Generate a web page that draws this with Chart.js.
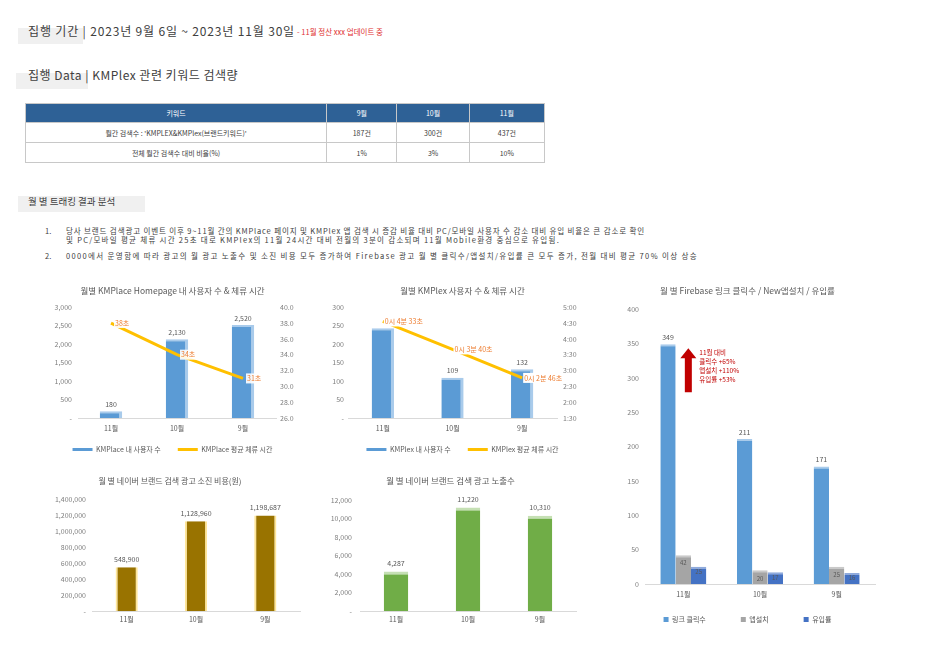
<!DOCTYPE html>
<html><head><meta charset="utf-8">
<script src="https://cdn.jsdelivr.net/npm/chart.js@4.4.1/dist/chart.umd.min.js"></script>
<style>
body{margin:0;width:927px;height:670px;background:#fff;position:relative;overflow:hidden;font-family:"Noto Sans CJK KR","Noto Sans",sans-serif;color:#404040}
.abs{position:absolute;white-space:nowrap}
.hbox{position:absolute;background:#f0f0f0}
.h{font-size:10.5px;line-height:12px;color:#404040}
.red{color:#e03030;font-size:7px;line-height:10px}
table{position:absolute;border-collapse:collapse;font-size:7px;color:#404040}
td,th{border:1px solid #c8c8c8;text-align:center;padding:0}
th{background:#2e6196;color:#fff;font-weight:normal;height:18px}
td{height:19px}
.bl{font-size:7.5px;line-height:9px;color:#404040}
.c{position:absolute}
</style></head><body>

<div class="hbox" style="left:18px;top:28px;width:65px;height:16px"></div>
<div class="abs h" id="h1" style="left:28px;top:25px">집행 기간 | 2023년 9월 6일 ~ 2023년 11월 30일</div>
<div class="abs red" id="h1r" style="left:297px;top:27px">- 11월 정산 xxx 업데이트 중</div>

<div class="hbox" style="left:16px;top:73px;width:72px;height:16px"></div>
<div class="abs h" id="h2" style="left:28px;top:69px">집행 Data | KMPlex 관련 키워드 검색량</div>

<table id="tbl" style="left:25px;top:103px;width:520px">
<thead><tr id="thead"></tr></thead>
<tbody id="tbody"></tbody>
</table>

<div class="hbox" style="left:18px;top:196px;width:127px;height:16px"></div>
<div class="abs h" id="h3" style="left:28px;top:195px;font-size:9.5px">월 별 트래킹 결과 분석</div>

<div class="abs bl" style="left:45px;top:226px">1.</div>
<div class="abs bl" id="b1" style="left:66px;top:226px">당사 브랜드 검색광고 이벤트 이후 9~11월 간의 KMPlace 페이지 및 KMPlex 앱 검색 시 증감 비율 대비 PC/모바일 사용자 수 감소 대비 유입 비율은 큰 감소로 확인</div>
<div class="abs bl" id="b2" style="left:66px;top:235px">및 PC/모바일 평균 체류 시간 25초 대로 KMPlex의 11월 24시간 대비 전월의 3분이 감소되며 11월 Mobile환경 중심으로 유입됨.</div>
<div class="abs bl" style="left:45px;top:251px">2.</div>
<div class="abs bl" id="b3" style="left:66px;top:251px">0000에서 운영함에 따라 광고의 월 광고 노출수 및 소진 비용 모두 증가하여 Firebase 광고 월 별 클릭수/앱설치/유입률 큰 모두 증가, 전월 대비 평균 70% 이상 상승</div>

<div class="c" style="left:40px;top:283px;width:265px;height:180px"><canvas id="cA"></canvas></div>
<div class="c" style="left:330px;top:283px;width:265px;height:180px"><canvas id="cB"></canvas></div>
<div class="c" style="left:620px;top:283px;width:290px;height:350px"><canvas id="cC"></canvas></div>
<div class="c" style="left:40px;top:473px;width:265px;height:154px"><canvas id="cD"></canvas></div>
<div class="c" style="left:325px;top:473px;width:270px;height:154px"><canvas id="cE"></canvas></div>

<script>
// ---------- data ----------
const tableHeader = ['키워드','9월','10월','11월'];
const tableRow1 = ["월간 검색수 : 'KMPLEX&KMPlex(브랜드키워드)'",'187건','300건','437건'];
const tableRow2 = ['전체 월간 검색수 대비 비율(%)','1%','3%','10%'];

const months = ['11월','10월','9월'];
const homeUsers = [180, 2130, 2520];
const homeStay = [38, 34, 31];
const plexUsers = [243, 109, 132];
const plexStaySec = [273, 220, 166];
const fbClicks = [349, 211, 171];
const fbInstalls = [42, 20, 25];
const fbInflow = [25, 17, 16];
const adCost = [548900, 1128960, 1198687];
const adImpr = [4287, 11220, 10310];
const fbNote = ['11월 대비','클릭수 +65%','앱설치 +110%','유입률 +53%'];

// ---------- table ----------
const colW=[303,70,72,75];
document.getElementById('thead').innerHTML=tableHeader.map((t,i)=>`<th style="width:${colW[i]}px">${t}</th>`).join('');
document.getElementById('tbody').innerHTML=[tableRow1,tableRow2].map(r=>'<tr>'+r.map(t=>`<td>${t}</td>`).join('')+'</tr>').join('');

// fit text run widths to the reference: font size first (capped), then spacing
function fit(id,w,maxSize){
  const el=document.getElementById(id);
  const base=parseFloat(getComputedStyle(el).fontSize);
  el.style.letterSpacing='0px';
  let cur=el.getBoundingClientRect().width;
  const sz=Math.min(base*w/cur,maxSize);
  el.style.fontSize=sz+'px';
  cur=el.getBoundingClientRect().width;
  el.style.letterSpacing=((w-cur)/el.textContent.length)+'px';
}
fit('h1',267,12);fit('h1r',86,7.5);fit('h2',210,12);
fit('b1',579,7.5);fit('b2',494,7.5);fit('b3',632,7.5);

// ---------- chart setup ----------
const FONT='"Noto Sans CJK KR","Noto Sans",sans-serif';
Chart.defaults.font.family=FONT;
Chart.defaults.font.size=7;
Chart.defaults.color='#7f7f7f';
Chart.defaults.animation=false;
Chart.defaults.maintainAspectRatio=false;
const num=v=>v===0?'-':Number(v).toLocaleString('en-US');
const secFmt=s=>{const m=Math.floor(s/60),ss=s%60;return `0시 ${m}분 ${String(ss).padStart(2,'0')}초`;};
const mss=s=>`${Math.floor(s/60)}:${String(s%60).padStart(2,'0')}`;

const valueLabels={id:'valueLabels',afterDatasetsDraw(chart){
  const ctx=chart.ctx;
  chart.data.datasets.forEach((ds,i)=>{
    if(!ds.vl)return;
    const meta=chart.getDatasetMeta(i);
    meta.data.forEach((el,j)=>{
      if(ds.vl.skip&&ds.vl.skip.includes(j))return;
      const txt=ds.vl.fmt(ds.data[j]);
      ctx.save();
      ctx.font=`${ds.vl.size||7}px ${FONT}`;
      ctx.textBaseline='middle';
      const w=ctx.measureText(txt).width;
      let x,y;
      if(ds.vl.pos==='right'){x=el.x+(ds.vl.dx||5);y=el.y;ctx.textAlign='left';
        if(ds.vl.bg){ctx.fillStyle=ds.vl.bg;ctx.fillRect(x-1,y-5,w+2,10);}
      } else {x=el.x;y=el.y-(ds.vl.dy||6);ctx.textAlign='center';}
      ctx.fillStyle=ds.vl.color||'#595959';
      ctx.fillText(txt,x,y);
      ctx.restore();
    });
  });
}};

const legendLabels=(gap)=>(chart)=>chart.data.datasets.map((ds,i,a)=>({text:ds.label+(gap&&i<a.length-1?gap:''),fillStyle:ds.legendColor,strokeStyle:ds.legendColor,lineWidth:0,datasetIndex:i,fontColor:'#595959'}));
const fixW=w=>function(s){s.width=w;};
const fixH=h=>function(s){s.height=h;};
const xScale=(h,p)=>({grid:{display:false,drawTicks:false},border:{display:true,color:'#d9d9d9'},ticks:{color:'#595959',padding:p},afterFit:fixH(h)});
const yScale=(o)=>Object.assign({grid:{display:false,drawTicks:false},border:{display:false}},o);
const title=(t,pb,sz)=>({display:true,text:t,color:'#595959',font:{size:sz||8.5,weight:'normal'},padding:{top:3,bottom:pb}});

// Chart A
new Chart(document.getElementById('cA'),{
  data:{labels:months,datasets:[
    {type:'bar',label:'KMPlace 내 사용자 수',data:homeUsers,yAxisID:'y',backgroundColor:'#5b9bd5',borderColor:'#a9cbeb',borderWidth:{top:2,right:3,left:0,bottom:0},borderSkipped:false,categoryPercentage:0.34,barPercentage:1,legendColor:'#5b9bd5',order:1,
      vl:{fmt:num,dy:7}},
    {type:'line',label:'KMPlace 평균 체류 시간',data:homeStay,yAxisID:'y1',borderColor:'#ffc000',borderWidth:3,pointRadius:0,legendColor:'#ffc000',order:0,
      vl:{pos:'right',fmt:v=>v+'초',color:'#ed7d31',bg:'rgba(255,255,255,0.9)',dx:4}}
  ]},
  options:{
    scales:{x:xScale(18,6),
      y:yScale({position:'left',min:0,max:3000,ticks:{stepSize:500,callback:num,padding:6},afterFit:fixW(38)}),
      y1:yScale({position:'right',min:26,max:40,ticks:{stepSize:2,callback:v=>v.toFixed(1),padding:4},afterFit:fixW(29)})},
    plugins:{title:title('월별 KMPlace Homepage 내 사용자 수 & 체류 시간',11),
      legend:{position:'bottom',labels:{boxWidth:20,boxHeight:3,padding:10,color:'#595959',generateLabels:legendLabels('\u3000')}},tooltip:{enabled:false}}},
  plugins:[valueLabels]
});

// Chart B
new Chart(document.getElementById('cB'),{
  data:{labels:months,datasets:[
    {type:'bar',label:'KMPlex 내 사용자 수',data:plexUsers,yAxisID:'y',backgroundColor:'#5b9bd5',borderColor:'#a9cbeb',borderWidth:{top:2,right:3,left:0,bottom:0},borderSkipped:false,categoryPercentage:0.32,barPercentage:1,legendColor:'#5b9bd5',order:1,
      vl:{fmt:num,dy:7,skip:[0]}},
    {type:'line',label:'KMPlex 평균 체류 시간',data:plexStaySec,yAxisID:'y1',borderColor:'#ffc000',borderWidth:3,pointRadius:0,legendColor:'#ffc000',order:0,
      vl:{pos:'right',fmt:secFmt,color:'#ed7d31',bg:'#ffffff',dx:2}}
  ]},
  options:{
    scales:{x:xScale(18,6),
      y:yScale({position:'left',min:0,max:300,ticks:{stepSize:50,callback:num,padding:4},afterFit:fixW(18)}),
      y1:yScale({position:'right',min:90,max:300,ticks:{stepSize:30,callback:mss,padding:6},afterFit:fixW(38)})},
    plugins:{title:title('월별 KMPlex 사용자 수 & 체류 시간',11),
      legend:{position:'bottom',labels:{boxWidth:20,boxHeight:3,padding:10,color:'#595959',generateLabels:legendLabels('\u3000')}},tooltip:{enabled:false}}},
  plugins:[valueLabels]
});

// Chart C
const arrowNote={id:'arrowNote',afterDraw(chart){
  const ctx=chart.ctx, xs=chart.scales.x, ys=chart.scales.y;
  const cx=xs.getPixelForValue(0)+5, top=ys.getPixelForValue(fbClicks[0])+4, bot=top+44;
  ctx.save();ctx.fillStyle='#c00000';
  ctx.beginPath();
  ctx.moveTo(cx-3.5,bot);ctx.lineTo(cx-3.5,top+10);ctx.lineTo(cx-8,top+10);ctx.lineTo(cx,top);ctx.lineTo(cx+8,top+10);ctx.lineTo(cx+3.5,top+10);ctx.lineTo(cx+3.5,bot);ctx.closePath();ctx.fill();
  ctx.font=`6.5px ${FONT}`;ctx.textBaseline='top';ctx.textAlign='left';
  fbNote.forEach((t,i)=>ctx.fillText(t,cx+11,top+1+i*9));
  ctx.restore();
}};
new Chart(document.getElementById('cC'),{
  type:'bar',
  data:{labels:months,datasets:[
    {label:'링크 클릭수',data:fbClicks,backgroundColor:'#5b9bd5',borderColor:'#a9cbeb',borderWidth:{top:2,right:0,left:0,bottom:0},borderSkipped:false,legendColor:'#5b9bd5',vl:{fmt:num,dy:7}},
    {label:'앱설치',data:fbInstalls,backgroundColor:'#a5a5a5',borderColor:'#c9c9c9',borderWidth:{top:2,right:0,left:0,bottom:0},borderSkipped:false,legendColor:'#a5a5a5',vl:{fmt:num,dy:-8,size:6}},
    {label:'유입률',data:fbInflow,backgroundColor:'#4472c4',borderColor:'#8faadc',borderWidth:{top:2,right:0,left:0,bottom:0},borderSkipped:false,legendColor:'#4472c4',vl:{fmt:num,dy:-5,size:6}}
  ]},
  options:{datasets:{bar:{categoryPercentage:0.6,barPercentage:1}},
    scales:{x:xScale(18,6),
      y:yScale({min:0,max:400,ticks:{stepSize:50,padding:6},afterFit:fixW(25)})},
    layout:{padding:{right:35}},
    plugins:{title:title('월 별 Firebase 링크 클릭수 / New앱설치 / 유입률',13),
      legend:{position:'bottom',labels:{boxWidth:5,boxHeight:5,padding:14,color:'#595959',generateLabels:legendLabels('\u3000\u3000\u3000')}},tooltip:{enabled:false}}},
  plugins:[valueLabels,arrowNote]
});

// Chart D
new Chart(document.getElementById('cD'),{
  type:'bar',
  data:{labels:months,datasets:[
    {label:'소진 비용',data:adCost,backgroundColor:'#997300',borderColor:'#ffe699',borderWidth:{top:0,right:2,left:2,bottom:0},borderSkipped:false,categoryPercentage:0.32,barPercentage:1,vl:{fmt:num,dy:8}}
  ]},
  options:{
    scales:{x:xScale(16,4),
      y:yScale({min:0,max:1400000,ticks:{stepSize:200000,callback:num,padding:6},afterFit:fixW(52)})},
    layout:{padding:{right:5}},
    plugins:{title:title('월 별 네이버 브랜드 검색 광고 소진 비용(원)',14,8),legend:{display:false},tooltip:{enabled:false}}},
  plugins:[valueLabels]
});

// Chart E
new Chart(document.getElementById('cE'),{
  type:'bar',
  data:{labels:months,datasets:[
    {label:'노출수',data:adImpr,backgroundColor:'#70ad47',borderColor:'#c5e0b4',borderWidth:{top:3,right:0,left:0,bottom:0},borderSkipped:false,categoryPercentage:0.34,barPercentage:1,vl:{fmt:num,dy:8}}
  ]},
  options:{
    scales:{x:xScale(16,4),
      y:yScale({min:0,max:12000,ticks:{stepSize:2000,callback:num,padding:8},afterFit:fixW(35)})},
    layout:{padding:{right:19}},
    plugins:{title:title('월 별 네이버 브랜드 검색 광고 노출수',14),legend:{display:false},tooltip:{enabled:false}}},
  plugins:[valueLabels]
});
</script>
</body></html>
